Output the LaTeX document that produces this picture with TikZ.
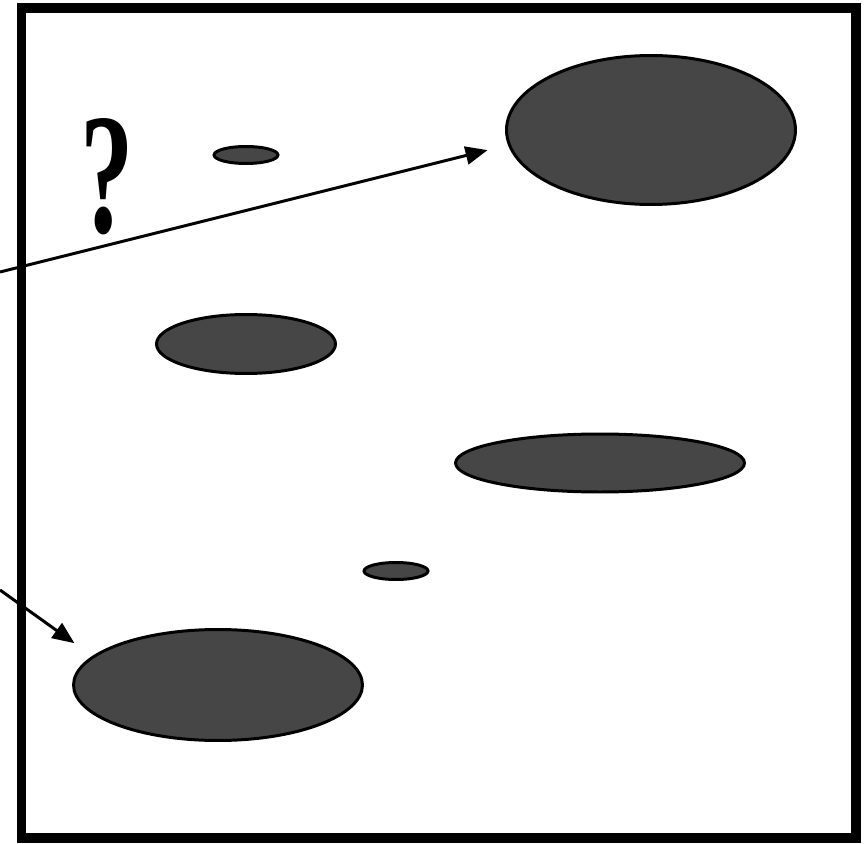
\documentclass[tikz,border=0pt]{standalone}
\usepackage{fontspec}
\usepackage{tikz}
\usetikzlibrary{positioning,arrows.meta,shapes.geometric}
\newfontfamily\queryfont{Liberation Serif}
\definecolor{blobgray}{HTML}{464646}

\begin{document}
\begin{tikzpicture}[x=0.02cm,y=-0.02cm,
  blob/.style={ellipse,draw=black,line width=1.7pt,fill=blobgray,inner sep=0pt},
  pointer/.style={-{Triangle[length=0.44cm,width=0.36cm]},line width=1.7pt}]
\useasboundingbox (0,0) rectangle (868,844);
\draw[line width=0.2cm] (21.5,8) rectangle (856,838);
% blobs
\node[blob,minimum width=5.78cm,minimum height=2.98cm] (big) at (651,130) {};
\node[blob,minimum width=1.28cm,minimum height=0.34cm] (dotA) at (246,155) {};
\node[blob,minimum width=3.58cm,minimum height=1.18cm] (mid) at (246,344) {};
\node[blob,minimum width=5.78cm,minimum height=1.16cm] (flat) at (600,463) {};
\node[blob,minimum width=1.28cm,minimum height=0.34cm] (dotB) at (396,571) {};
\node[blob,minimum width=5.78cm,minimum height=2.22cm] (low) at (218,685) {};
\node[font=\queryfont\bfseries\fontsize{98}{98}\selectfont,inner sep=0pt,
      xscale=0.62,transform shape] (query) at (107,177) {?};
% pointers from outside
\coordinate (fromtop) at (0,272);
\coordinate (fromlow) at (0,590);
\draw[pointer,shorten >=0.42cm] (fromtop) -- (big.186);
\draw[pointer,shorten >=0.44cm] (fromlow) -- (low.167);
\end{tikzpicture}
\end{document}
